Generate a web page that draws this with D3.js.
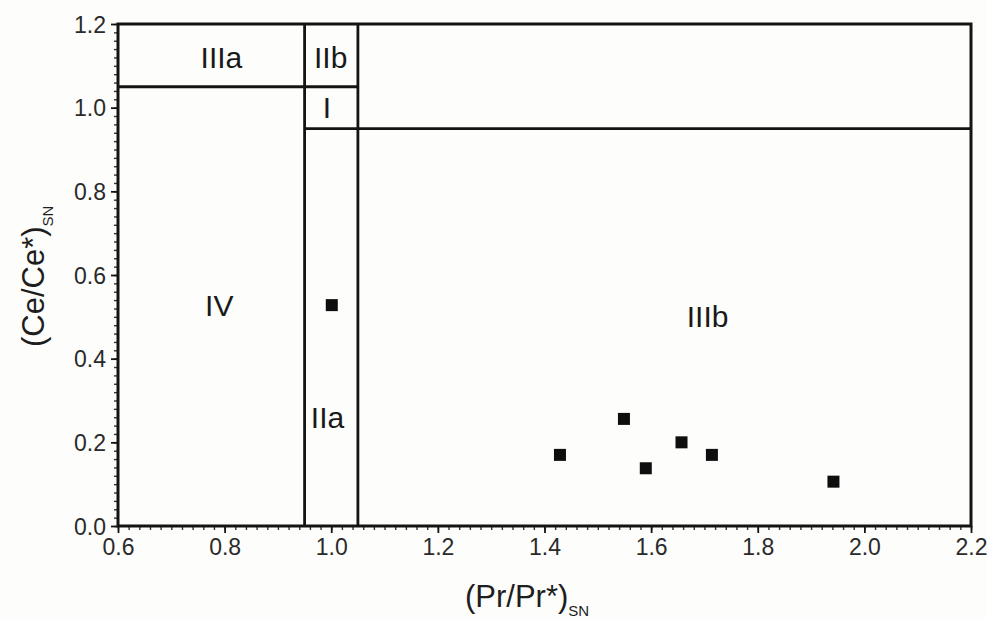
<!DOCTYPE html>
<html>
<head>
<meta charset="utf-8">
<script src="https://cdn.jsdelivr.net/npm/d3@7"></script>
<style>
  html, body { margin: 0; padding: 0; background: #fdfdfb; }
  svg { display: block; font-family: "Liberation Sans", Arial, sans-serif; }
</style>
</head>
<body>
<svg id="chart" width="987" height="619"></svg>
<script>
// ---- data ----
const xTickValues = [0.6, 0.8, 1.0, 1.2, 1.4, 1.6, 1.8, 2.0, 2.2];
const yTickValues = [0.0, 0.2, 0.4, 0.6, 0.8, 1.0, 1.2];
const samplePr = [1.001, 1.429, 1.549, 1.590, 1.657, 1.714, 1.942];
const sampleCe = [0.528, 0.170, 0.256, 0.138, 0.200, 0.170, 0.106];
// field boundaries: [x1, y1, x2, y2]
const boundaries = [
  [0.95, 0.0, 0.95, 1.2],
  [1.05, 0.0, 1.05, 1.2],
  [0.6, 1.05, 1.05, 1.05],
  [0.95, 0.95, 2.2, 0.95]
];
const fieldNames = ["IIIa", "IIb", "I", "IV", "IIa", "IIIb"];
const fieldX = [0.794, 0.999, 0.992, 0.790, 0.993, 1.706];
const fieldY = [1.095, 1.095, 0.975, 0.502, 0.234, 0.475];

// ---- layout ----
const svg = d3.select("#chart");
const mLeft = 118, mRight = 971, mTop = 24, mBottom = 526;
const x = d3.scaleLinear().domain([0.6, 2.2]).range([mLeft, mRight]);
const y = d3.scaleLinear().domain([0, 1.2]).range([mBottom, mTop]);
const ink = "#141414";

// minor ticks
const xMinor = svg.append("g").attr("transform", `translate(0,${mBottom})`)
  .call(d3.axisBottom(x).tickValues(x.ticks(80)).tickSize(4).tickFormat(""));
const yMinor = svg.append("g").attr("transform", `translate(${mLeft},0)`)
  .call(d3.axisLeft(y).tickValues(y.ticks(60)).tickSize(4).tickFormat(""));
[xMinor, yMinor].forEach(g => {
  g.select(".domain").remove();
  g.selectAll("line").attr("stroke", "#333").attr("stroke-width", 1.4);
});

// major ticks + labels
const xAxis = svg.append("g").attr("transform", `translate(0,${mBottom})`)
  .call(d3.axisBottom(x).tickValues(xTickValues).tickSize(7).tickPadding(6).tickFormat(d3.format(".1f")));
const yAxis = svg.append("g").attr("transform", `translate(${mLeft},0)`)
  .call(d3.axisLeft(y).tickValues(yTickValues).tickSize(7).tickPadding(5).tickFormat(d3.format(".1f")));
[xAxis, yAxis].forEach(g => {
  g.select(".domain").remove();
  g.selectAll("line").attr("stroke", ink).attr("stroke-width", 1.8);
  g.selectAll("text").attr("fill", "#2a2a2a").style("font-size", "23px")
    .style("font-family", "'Liberation Sans', Arial, sans-serif");
});
yAxis.selectAll("text").attr("dy", "0.36em");

// frame
svg.append("rect")
  .attr("x", x(0.6)).attr("y", y(1.2))
  .attr("width", x(2.2) - x(0.6)).attr("height", y(0) - y(1.2))
  .attr("fill", "none").attr("stroke", ink).attr("stroke-width", 3);

// field boundaries
svg.append("g").selectAll("line").data(boundaries).join("line")
  .attr("x1", d => x(d[0])).attr("y1", d => y(d[1]))
  .attr("x2", d => x(d[2])).attr("y2", d => y(d[3]))
  .attr("stroke", ink).attr("stroke-width", 2.8);

// field labels
svg.append("g").selectAll("text").data(fieldNames).join("text")
  .attr("x", (d, i) => x(fieldX[i])).attr("y", (d, i) => y(fieldY[i]))
  .attr("text-anchor", "middle")
  .attr("fill", "#1a1a1a")
  .style("font-size", "30px")
  .text(d => d);

// samples
const sz = 12;
svg.append("g").selectAll("rect").data(samplePr).join("rect")
  .attr("x", (d) => x(d) - sz / 2)
  .attr("y", (d, i) => y(sampleCe[i]) - sz / 2)
  .attr("width", sz).attr("height", sz)
  .attr("fill", "#0e0e0e");

// axis titles
const xt = svg.append("text").attr("x", 465).attr("y", 607)
  .attr("fill", "#1e1e1e").style("font-size", "31px");
xt.append("tspan").text("(Pr/Pr*)");
xt.append("tspan").attr("dy", 9).style("font-size", "15px").text("SN");

const yt = svg.append("text")
  .attr("transform", "translate(44,347) rotate(-90)")
  .attr("fill", "#1e1e1e").style("font-size", "31px");
yt.append("tspan").text("(Ce/Ce*)");
yt.append("tspan").attr("dy", 9).style("font-size", "15px").text("SN");
</script>
</body>
</html>
